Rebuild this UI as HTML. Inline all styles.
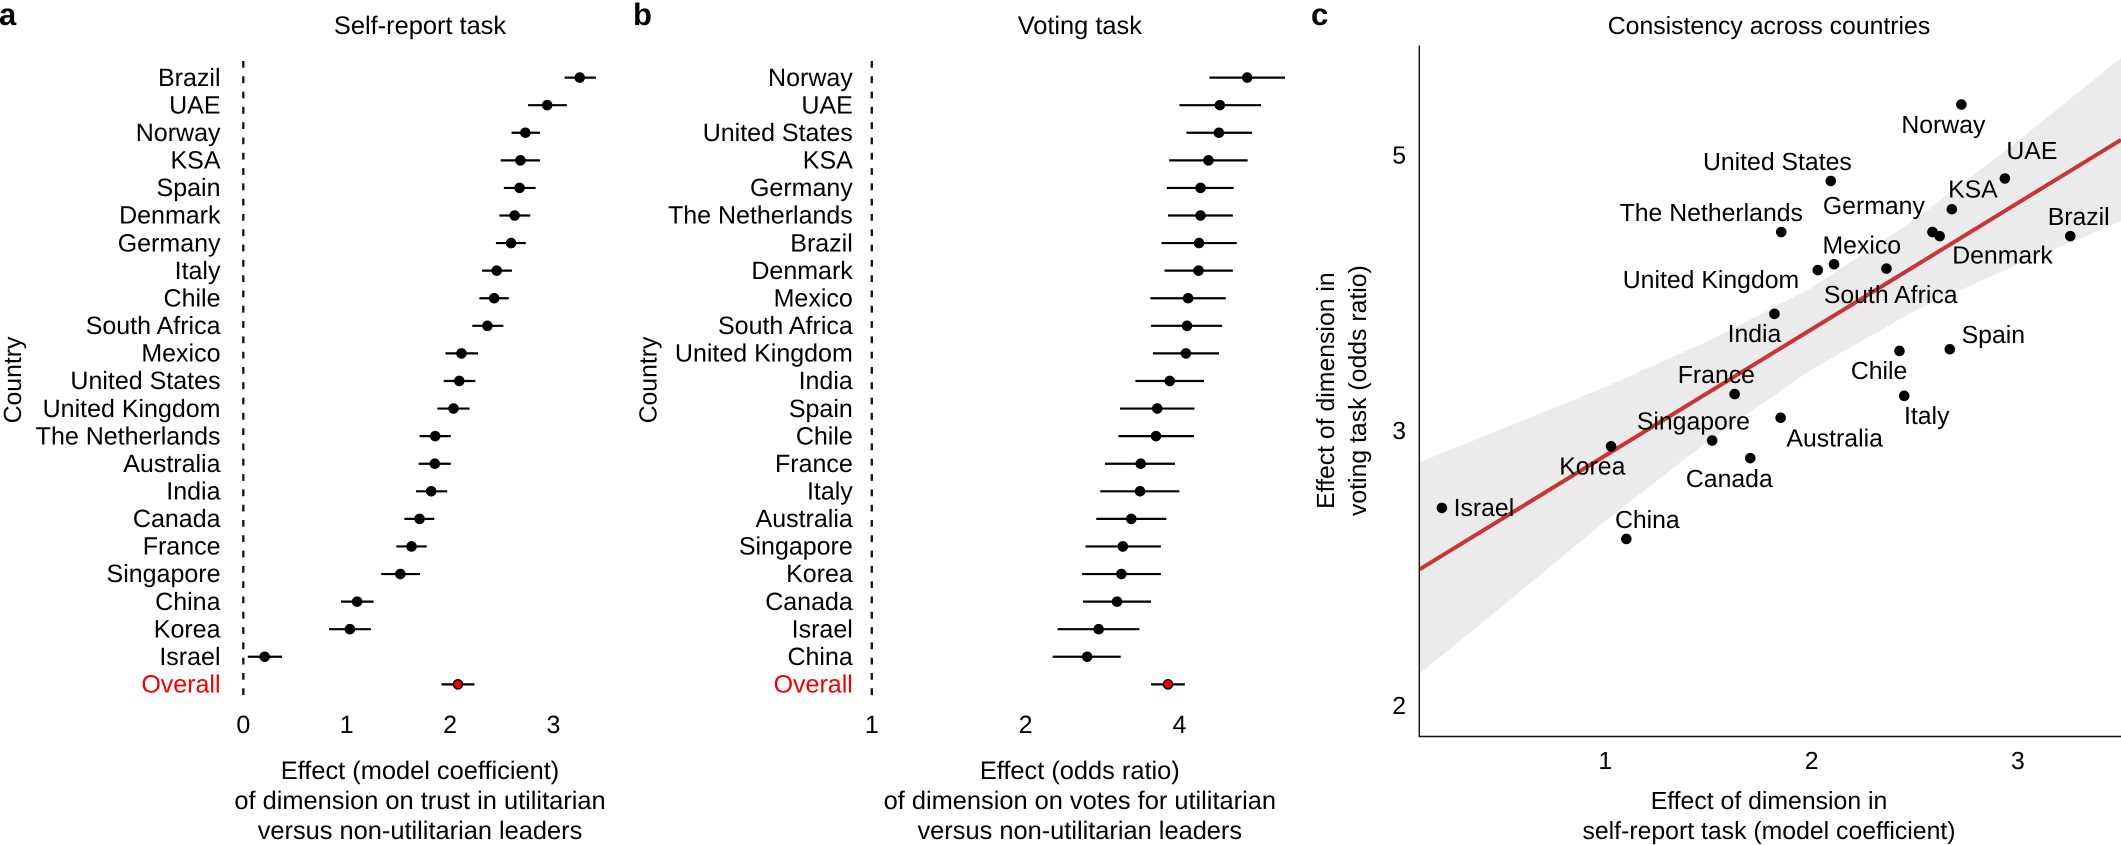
<!DOCTYPE html>
<html lang="en">
<head>
<meta charset="utf-8">
<title>Consistency across countries</title>
<style>
html,body{margin:0;padding:0;background:#fff;width:2121px;height:845px;overflow:hidden}
svg{display:block}
text{font-family:"Liberation Sans",Arial,sans-serif;font-size:24.8px;fill:#000;text-rendering:geometricPrecision}
.tag{font-weight:bold;font-size:31px;fill:#000}
.ttl text,text.ttl{font-size:25.4px}
#panel-a text,#panel-b text{font-size:25px}
</style>
</head>
<body>
<svg id="fig" xmlns="http://www.w3.org/2000/svg" width="2121" height="845" viewBox="0 0 2121 845">
  <defs><clipPath id="plot-clip"><rect x="1419.3" y="45" width="701.7" height="691.5"/></clipPath></defs>

  <text class="tag" x="-1" y="25">a</text>
  <text class="tag" x="633" y="25">b</text>
  <text class="tag" x="1311" y="25">c</text>

  <text class="ttl" x="420" y="34" text-anchor="middle">Self-report task</text>
  <text class="ttl" x="1079.8" y="34" text-anchor="middle">Voting task</text>
  <text x="1769" y="34" text-anchor="middle">Consistency across countries</text>

  <text transform="translate(21,380) rotate(-90)" text-anchor="middle">Country</text>
  <text transform="translate(656.5,380) rotate(-90)" text-anchor="middle">Country</text>

  <g class="ttl" text-anchor="middle">
    <text x="420" y="779">Effect (model coefficient)</text>
    <text x="420" y="809">of dimension on trust in utilitarian</text>
    <text x="420" y="839">versus non-utilitarian leaders</text>
  </g>
  <g class="ttl" text-anchor="middle">
    <text x="1079.8" y="779">Effect (odds ratio)</text>
    <text x="1079.8" y="809">of dimension on votes for utilitarian</text>
    <text x="1079.8" y="839">versus non-utilitarian leaders</text>
  </g>
  <g text-anchor="middle">
    <text x="1769" y="809">Effect of dimension in</text>
    <text x="1769" y="839">self-report task (model coefficient)</text>
  </g>
  <g text-anchor="middle">
    <text transform="translate(1334,390.6) rotate(-90)">Effect of dimension in</text>
    <text transform="translate(1366,390.6) rotate(-90)">voting task (odds ratio)</text>
  </g>

  <g id="panel-a"></g>
  <g id="panel-b"></g>
  <g id="panel-c"></g>
</svg>

<script>
// Panel a: self-report task (model coefficient)
var countriesA = ["Brazil","UAE","Norway","KSA","Spain","Denmark","Germany","Italy","Chile","South Africa","Mexico","United States","United Kingdom","The Netherlands","Australia","India","Canada","France","Singapore","China","Korea","Israel","Overall"];
var effectA = [3.254,2.939,2.728,2.680,2.672,2.624,2.590,2.451,2.426,2.361,2.110,2.089,2.033,1.856,1.852,1.817,1.705,1.627,1.519,1.101,1.031,0.207,2.076];
var lowerA = [3.107,2.754,2.594,2.490,2.520,2.477,2.443,2.309,2.283,2.214,1.955,1.938,1.877,1.705,1.696,1.670,1.558,1.480,1.334,0.945,0.829,0.043,1.916];
var upperA = [3.410,3.129,2.870,2.870,2.827,2.775,2.732,2.598,2.568,2.516,2.270,2.244,2.188,2.007,2.007,1.972,1.847,1.774,1.709,1.260,1.234,0.375,2.236];
var ticksA = [0,1,2,3];

// Panel b: voting task (odds ratio, log axis)
var countriesB = ["Norway","UAE","United States","KSA","Germany","The Netherlands","Brazil","Denmark","Mexico","South Africa","United Kingdom","India","Spain","Chile","France","Italy","Australia","Singapore","Korea","Canada","Israel","China","Overall"];
var effectB = [5.43,4.80,4.78,4.56,4.40,4.40,4.37,4.36,4.16,4.14,4.12,3.83,3.62,3.60,3.36,3.35,3.22,3.10,3.08,3.02,2.78,2.64,3.80];
var lowerB = [4.58,4.00,4.13,3.82,3.78,3.80,3.69,3.74,3.51,3.52,3.55,3.28,3.06,3.04,2.86,2.80,2.75,2.62,2.58,2.59,2.31,2.26,3.52];
var upperB = [6.44,5.78,5.55,5.44,5.11,5.09,5.18,5.09,4.93,4.85,4.78,4.47,4.28,4.27,3.92,4.00,3.77,3.68,3.68,3.52,3.34,3.07,4.10];
var ticksB = [1,2,4];

// Panel c: scatter of the two tasks
var countriesC = ["Norway","UAE","United States","KSA","The Netherlands","Germany","Denmark","Brazil","Mexico","South Africa","United Kingdom","India","Spain","Chile","France","Italy","Australia","Singapore","Korea","Canada","Israel","China"];
var selfReportC = [2.726,2.937,2.093,2.680,1.853,2.586,2.621,3.254,2.109,2.363,2.030,1.820,2.670,2.426,1.627,2.449,1.850,1.518,1.028,1.703,0.208,1.102];
var votingC = [5.44,4.81,4.79,4.57,4.40,4.40,4.37,4.37,4.17,4.14,4.13,3.84,3.62,3.61,3.36,3.35,3.23,3.11,3.08,3.02,2.78,2.64];
var fitX = [0.1,3.5];
var fitY = [2.51,5.13];
var bandX = [0.1,0.5,1,1.5,2,2.5,3,3.5];
var bandUpper = [3.00,3.17,3.40,3.67,4.01,4.49,5.12,5.88];
var bandLower = [2.11,2.36,2.72,3.11,3.50,3.86,4.17,4.48];
var ticksCx = [1,2,3];
var ticksCy = [2,3.162,5];
var tickLabelsCy = ["2","3","5"];

// Layout (not data)
var labelNudge = {"Norway":[-18,20.5],"UAE":[27,-27.5],"United States":[-53.4,-19],"KSA":[21,-20],"The Netherlands":[-70,-19.4],"Germany":[-58.6,-26],"Denmark":[62.8,19.4],"Brazil":[8.4,-19.4],"Mexico":[27.7,-19],"South Africa":[4.2,26],"United Kingdom":[-106.8,9.7],"India":[-20,20],"Spain":[43.5,-14.5],"Chile":[-20.4,20],"France":[-18.3,-19.4],"Italy":[22.5,20],"Australia":[54,20.5],"Singapore":[-18.8,-19.4],"Korea":[-18.8,20],"Canada":[-21,20.5],"Israel":[42,0],"China":[21,-19.4]};

var NS = "http://www.w3.org/2000/svg";
var BASE = 8.2;
function make(parent, tag, props, content) {
  var el = document.createElementNS(NS, tag);
  for (var k in props) el.setAttribute(k, props[k]);
  if (content !== undefined) el.textContent = content;
  parent.appendChild(el);
  return el;
}
function log2(v) { return Math.log(v) / Math.LN2; }

// Axis functions
function xA(v) { return 243.3 + 103.4 * v; }
function xB(v) { return 871.8 + 153.8 * log2(v); }
function rowY(i) { return 77.6 + 27.58 * i; }
function xC(v) { return 1605.3 + 206.3 * (v - 1); }
function yC(v) { return 705.8 - 416.5 * log2(v / 2); }

function drawForest(root, names, eff, lo, hi, xFn, labelX, refValue, ticks) {
  var ref = make(root, "line", {x1:xFn(refValue), x2:xFn(refValue), y1:61, y2:702, stroke:"#111", "stroke-width":2.3, "stroke-dasharray":"6.8 8.5"});
  
  
  ticks.forEach(function (t) {
    var tl = make(root, "text", {x:xFn(t), y:724.7 + BASE, "text-anchor":"middle"}, String(t));
    
    
  });
  names.forEach(function (name, i) {
    var overall = name === "Overall";
    var y = rowY(i);
    var lab = make(root, "text", {x:labelX, y:y + BASE, "text-anchor":"end"}, name);
    if (overall) lab.style.fill = "#f00000";
    
    
    var ci = make(root, "line", {x1:xFn(lo[i]), x2:xFn(hi[i]), y1:y, y2:y, stroke:"#000", "stroke-width":2.2});
    
    
    var dot = make(root, "circle", {cx:xFn(eff[i]), cy:y, r:overall ? 4.6 : 5.3, fill:overall ? "#e8000b" : "#000", stroke:"#000", "stroke-width":overall ? 1.4 : 0});
    
    
  });
}
drawForest(document.getElementById("panel-a"), countriesA, effectA, lowerA, upperA, xA, 220.5, 0, ticksA);
drawForest(document.getElementById("panel-b"), countriesB, effectB, lowerB, upperB, xB, 852.8, 1, ticksB);

(function () {
  var root = document.getElementById("panel-c");
  var pts = [];
  bandX.forEach(function (x, i) { pts.push(xC(x) + "," + yC(bandUpper[i])); });
  for (var j = bandX.length - 1; j >= 0; j--) pts.push(xC(bandX[j]) + "," + yC(bandLower[j]));
  var band = make(root, "polygon", {points:pts.join(" "), fill:"#ebebeb", "clip-path":"url(#plot-clip)"});
  
  

  var fit = make(root, "line", {x1:xC(fitX[0]), y1:yC(fitY[0]), x2:xC(fitX[1]), y2:yC(fitY[1]), stroke:"#c93535", "stroke-width":4, "clip-path":"url(#plot-clip)"});
  
  

  var yAxis = make(root, "line", {x1:1419.3, x2:1419.3, y1:45.5, y2:737, stroke:"#111", "stroke-width":1.4});
  
  
  var xAxis = make(root, "line", {x1:1418.6, x2:2121, y1:736.5, y2:736.5, stroke:"#111", "stroke-width":1.4});
  
  

  ticksCx.forEach(function (t) {
    var tl = make(root, "text", {x:xC(t), y:761 + BASE, "text-anchor":"middle"}, String(t));
    
    
  });
  ticksCy.forEach(function (t, i) {
    var tl = make(root, "text", {x:1406, y:yC(t) + BASE, "text-anchor":"end"}, tickLabelsCy[i]);
    
    
  });

  countriesC.forEach(function (name, i) {
    var cx = xC(selfReportC[i]), cy = yC(votingC[i]);
    var dot = make(root, "circle", {cx:cx, cy:cy, r:5.3, fill:"#000"});
    
    
    var n = labelNudge[name];
    var lab = make(root, "text", {x:cx + n[0], y:cy + n[1] + BASE, "text-anchor":"middle"}, name);
    
    
  });
})();
</script>
</body>
</html>
